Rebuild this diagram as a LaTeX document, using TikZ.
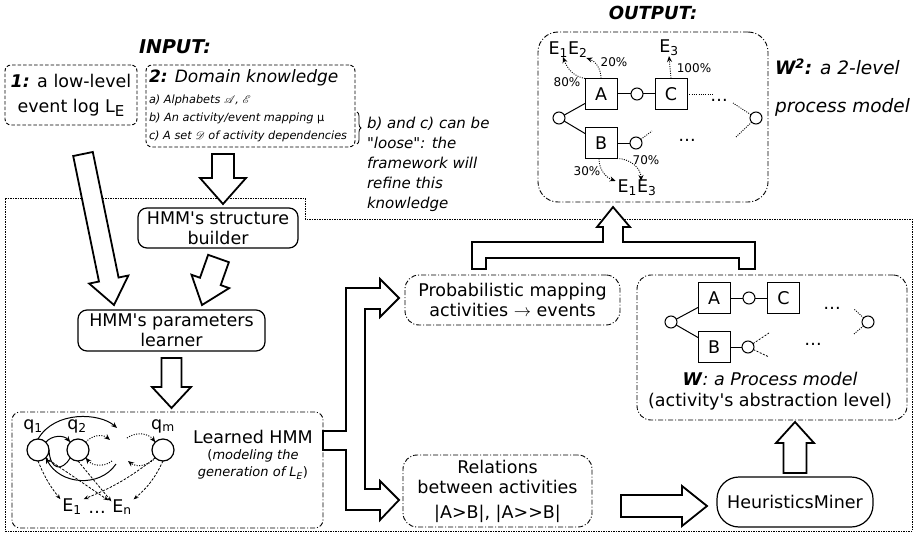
\documentclass[tikz,border=0pt]{standalone}
\usepackage{fontspec}
\newfontfamily\dvs{DejaVu Sans}
\usepackage{mathrsfs}
\usetikzlibrary{calc,decorations.pathreplacing,arrows.meta}
\newcommand\fatarrow[5]{%
  \coordinate (fasS) at #1;
  \coordinate (fasT) at #2;
  \coordinate (fasN) at ($(fasT)!#5!(fasS)$);
  \draw[fat] ($(fasS)!#3!90:(fasT)$) -- ($(fasN)!#3!90:(fasT)$) -- ($(fasN)!#4!90:(fasT)$) -- (fasT) -- ($(fasN)!#4!-90:(fasT)$) -- ($(fasN)!#3!-90:(fasT)$) -- ($(fasS)!#3!-90:(fasT)$) -- cycle;}
\begin{document}
\dvs
\begin{tikzpicture}[x=1pt,y=-1pt,
  every node/.style={inner sep=0pt, outer sep=0pt},
  tx/.style={font=\fontsize{17.5}{20}\selectfont, align=center},
  fat/.style={draw, line width=1.8pt, line join=miter, miter limit=10, fill=white},
  dashbox/.style={draw, rounded corners=6pt, dash pattern=on 3.5pt off 2pt, line width=0.9pt},
  ddbox/.style={draw, rounded corners=14pt, dash pattern=on 5pt off 2pt on 1pt off 2pt, line width=0.9pt},
  solbox/.style={draw, rounded corners=9pt, line width=1.2pt},
  act/.style={draw, line width=1pt, minimum width=32pt, minimum height=31pt, font=\fontsize{17.5}{17.5}\selectfont},
  plc/.style={draw, circle, line width=1pt, minimum size=12pt},
  dotl/.style={dash pattern=on 1pt off 1.3pt, line width=0.9pt},
  headed/.style={-{Stealth[length=6pt,width=5pt]}},
  pct/.style={font=\fontsize{12}{12}\selectfont},
  itm/.style={anchor=west, font=\fontsize{11.3}{12}\selectfont\itshape},
  st/.style={draw, circle, line width=1.2pt, minimum size=22pt},
  emit/.style={dash pattern=on 2.5pt off 1.5pt, line width=0.8pt, -{Stealth[length=5pt,width=4pt]}},
  tr/.style={line width=1pt, -{Stealth[length=6pt,width=5pt]}},
  dtr/.style={dash pattern=on 1pt off 1.5pt, line width=1pt, -{Stealth[length=6pt,width=5pt]}}
]
\useasboundingbox (0,0) rectangle (916,535);

% framework boundary
\draw[line width=0.8pt, dash pattern=on 1.5pt off 1pt] (5,198) -- (305,198) -- (305,219) -- (912,219) -- (912,531) -- (5,531) -- cycle;

% titles
\node[font=\fontsize{19}{19}\selectfont\bfseries\itshape] (inp) at (175,47) {INPUT:};
\node[font=\fontsize{18}{18}\selectfont\bfseries\itshape] (outp) at (653,13) {OUTPUT:};
\node[anchor=west, font=\fontsize{18.5}{20}\selectfont\itshape] (w2t) at (775,67) {\textbf{W\textsuperscript{2}:} a 2-level};
\node[anchor=west, font=\fontsize{18.5}{20}\selectfont\itshape] (w2t2) at (775,107) {process model};

% input boxes
\node[dashbox, minimum width=132pt, minimum height=60pt, font=\fontsize{17.5}{25}\selectfont, align=center] (b1) at (71,95) {\textbf{\textit{1:}} a low-level\\event log L\raisebox{-4pt}{\fontsize{15}{15}\selectfont E}};
\node[dashbox, minimum width=209pt, minimum height=82pt] (b2) at (250.5,106) {};
\node[anchor=west, font=\fontsize{17}{20}\selectfont\itshape] (dk) at (149,78) {\textbf{2:} Domain knowledge};
\node[itm] (da) at (149,100) {a) Alphabets $\mathscr{A}$, $\mathscr{E}$};
\node[itm] (db) at (149,118) {b) An activity/event mapping {\upshape μ}};
\node[itm] (dc) at (149,136) {c) A set $\mathscr{D}$ of activity dependencies};
\draw[line width=0.8pt, decorate, decoration={brace, amplitude=4pt}] (357,112) -- (357,144);
\node[anchor=north west, align=left, font=\fontsize{15}{20}\selectfont\itshape] (note) at (367,117) {b) and c) can be\\"loose": the\\framework will\\refine this\\knowledge};

% main nodes
\node[solbox, tx, minimum width=160pt, minimum height=40pt] (sb) at (218,228) {HMM's structure\\builder};
\node[solbox, tx, minimum width=187pt, minimum height=41pt] (pl) at (171.5,330.5) {HMM's parameters\\learner};
\node[ddbox, rounded corners=8pt, minimum width=311pt, minimum height=116pt] (hb) at (167.5,470) {};
\node[ddbox, tx, minimum width=215pt, minimum height=50pt] (pm) at (512.5,300) {Probabilistic mapping\\activities $\rightarrow$ events};
\node[ddbox, tx, minimum width=189pt, minimum height=72pt] (rel) at (497.5,491) {Relations\\between activities\\[5pt]|A>B|, |A>>B|};
\node[solbox, rounded corners=22pt, tx, minimum width=156pt, minimum height=50pt] (hm) at (795,502) {HeuristicsMiner};
\node[ddbox, minimum width=270pt, minimum height=145pt] (wb) at (772,347.5) {};
\node[ddbox, rounded corners=20pt, minimum width=230pt, minimum height=170pt] (w2b) at (653,117) {};

% fat arrows
\fatarrow{([shift={(12,29)}]b1.south)}{([shift={(36,-5)}]pl.north west)}{10pt}{20pt}{26pt}
\fatarrow{([shift={(-27.5,7)}]b2.south)}{([shift={(5,-4)}]sb.north)}{11pt}{23pt}{26pt}
\fatarrow{([shift={(0.5,10.5)}]sb.south)}{([shift={(30.5,-5)}]pl.north)}{11pt}{20pt}{25pt}
\fatarrow{([shift={(0,7)}]pl.south)}{([shift={(4,-4)}]hb.north)}{10pt}{19.5pt}{21pt}
\fatarrow{([shift={(29,15)}]rel.east)}{([shift={(-10,4)}]hm.west)}{11pt}{20pt}{25pt}
\fatarrow{([shift={(0,-4)}]hm.north)}{([shift={(23,2)}]wb.south)}{11.5pt}{19pt}{21pt}

% fork from learned HMM
\draw[fat] (323,431) -- (346,431) -- (346,288) -- (380,288) -- (380,279) -- (399,298) -- (380,317) -- (380,309) -- (365,309) -- (365,489) -- (380,489) -- (380,481) -- (399,500) -- (380,520) -- (380,510) -- (346,510) -- (346,450) -- (323,450) -- cycle;
% fork to output
\draw[fat] (472,269) -- (472,242) -- (603,242) -- (603,227) -- (597,227) -- (613,207) -- (630,227) -- (623,227) -- (623,242) -- (755,242) -- (755,269) -- (739,269) -- (739,258) -- (486,258) -- (486,269) -- cycle;

% Learned HMM contents
\node[st] (q1) at (38,450) {};
\node[st] (q2) at (78,450) {};
\node[st] (qm) at (163,450) {};
\node[tx] (lq1) at (33,426) {q\textsubscript{1}};
\node[tx] (lq2) at (77,426) {q\textsubscript{2}};
\node[tx] (lqm) at (163,426) {q\textsubscript{m}};
\node[tx] (E1h) at (72,507) {E\textsubscript{1}};
\node[tx, anchor=base] (edots) at (97,513) {\dots};
\node[tx] (Enh) at (122,507) {E\textsubscript{n}};
\coordinate (m1) at (117,428);
\coordinate (m2) at (110,440);
\coordinate (m3) at (127,438);
\coordinate (m4) at (128,461);
\coordinate (m5) at (112,461);
\coordinate (m6) at (116,464);
\draw[tr] (q1.north east) to[bend left=50] (q2.north west);
\draw[tr] (q1.north) .. controls (55,410) and (100,413) .. (m1);
\draw[dtr] (q2.north east) to[bend left=45] (m2);
\draw[dtr] (m3) to[bend left=45] (qm.north west);
\draw[dtr] (qm.south west) to[bend left=45] (m4);
\draw[dtr] (m5) to[bend left=45] (q2.south east);
\draw[line width=1pt] (q1.east) .. controls (50,470) and (62,472) .. (q2.south west);
\draw[tr] (m6) .. controls (100,488) and (60,485) .. (q1.south east);
\draw[emit] (q1.south) to[bend right=8] ([xshift=-2pt]E1h.north west);
\draw[emit] (q1.south east) -- ([xshift=-4pt,yshift=-1pt]Enh.north west);
\draw[emit] (q2.south) -- ([xshift=-1pt,yshift=-2pt]Enh.north west);
\draw[emit] (qm.south west) to[bend left=8] ([xshift=2pt]E1h.north east);
\draw[emit] (qm.south) to[bend left=12] ([xshift=2pt]Enh.north east);
\node[tx] (lh) at (253,437) {Learned HMM};
\node[font=\fontsize{13}{15}\selectfont] (lh2) at (253,456) {(\textit{modeling the}};
\node[font=\fontsize{13}{15}\selectfont] (lh3) at (253,473) {\textit{generation of L\textsubscript{E}})};

% W process model
\node[act] (A1) at (714,298) {A};
\node[act] (C1) at (783.5,298) {C};
\node[plc] (pac1) at (749,298) {};
\node[plc] (ps1) at (671,322) {};
\node[act] (B1) at (714,347) {B};
\node[plc] (pb1) at (748,347) {};
\node[plc] (pe1) at (868,322) {};
\draw[line width=1pt] (ps1) -- ([yshift=6pt]A1.south west);
\draw[line width=1pt] (ps1) -- ([yshift=-6pt]B1.north west);
\draw[line width=1pt] (A1) -- (pac1) -- (C1);
\draw[line width=1pt] (B1) -- (pb1);
\draw[line width=0.8pt, dash pattern=on 2pt off 1.5pt] (pb1) -- ++(21,-14);
\draw[line width=0.8pt, dash pattern=on 2pt off 1.5pt] (pb1) -- ++(21,10);
\draw[dotl] (pe1) -- ++(-14,-13);
\draw[dotl] (pe1) -- ++(-14,12);
\node[tx, anchor=base] (wd1) at (832,309) {\dots};
\node[tx, anchor=base] (wd2) at (813,345) {\dots};
\node[tx] (wt1) at (770,379) {\textbf{\textit{W}}\textit{: a Process model}};
\node[tx] (wt2) at (770,402) {(activity's abstraction level)};

% W2 two-level model
\node[act] (A2) at (601,94) {A};
\node[act] (C2) at (671,94) {C};
\node[plc] (pac2) at (637,94) {};
\node[plc] (ps2) at (559,118) {};
\node[act] (B2) at (601,143) {B};
\node[plc] (pb2) at (636,143) {};
\node[plc] (pe2) at (756,118) {};
\draw[line width=1pt] (ps2) -- ([yshift=6pt]A2.south west);
\draw[line width=1pt] (ps2) -- ([yshift=-6pt]B2.north west);
\draw[line width=1pt] (A2) -- (pac2) -- (C2);
\draw[line width=1pt] (B2) -- (pb2);
\draw[dotl] (C2.east) -- ++(26,0);
\draw[dotl] (pb2) -- ++(16,-12);
\draw[dotl] (pe2) -- ++(-23,-15);
\draw[dotl] (pe2) -- ++(-20,19);
\node[tx, anchor=base] (vd1) at (719,101) {\dots};
\node[tx, anchor=base] (vd2) at (687,141) {\dots};
\node[tx] (e12) at (568,50) {E\textsubscript{1}E\textsubscript{2}};
\node[tx] (e3) at (669,48) {E\textsubscript{3}};
\node[tx] (e13) at (637,188) {E\textsubscript{1}E\textsubscript{3}};
\node[pct] (p80) at (567,82) {80\%};
\node[pct] (p20) at (614,62) {20\%};
\node[pct] (p100) at (694,68) {100\%};
\node[pct] (p30) at (587,171) {30\%};
\node[pct] (p70) at (646,160) {70\%};
\draw[dotl, headed] (A2.north west) to[out=170,in=-70] ([xshift=-5pt,yshift=1pt]e12.south);
\draw[dotl, headed] (A2.north) to[out=90,in=-20] ([xshift=-1pt]e12.south east);
\draw[dotl, headed] (C2.north) -- (e3.south);
\draw[dotl, headed] ([xshift=-2pt]B2.south) to[out=-90,in=160] ([xshift=-2pt,yshift=-1pt]e13.north west);
\draw[dotl, headed] (B2.south east) to[out=0,in=90] ([xshift=4pt,yshift=-1pt]e13.north);
\end{tikzpicture}
\end{document}
